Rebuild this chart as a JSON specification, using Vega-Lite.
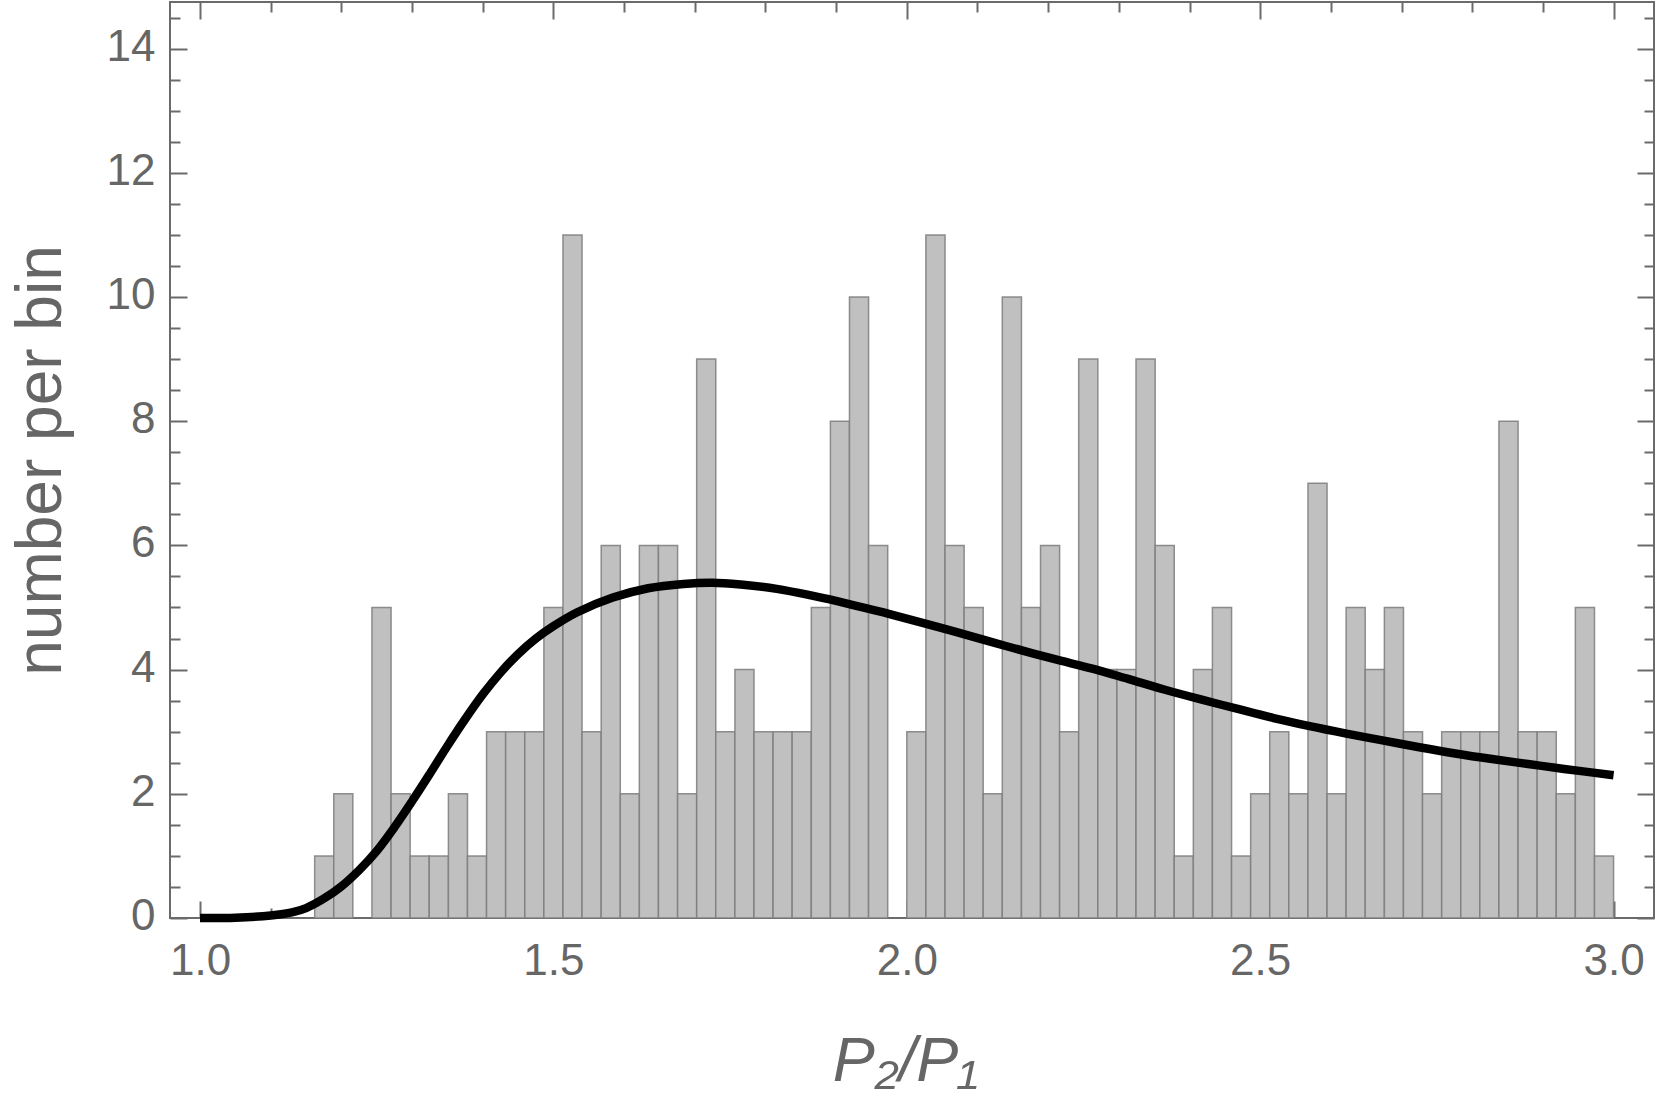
{
  "$schema": "https://vega.github.io/schema/vega-lite/v6.json",
  "width": 1484,
  "height": 916,
  "autosize": {"type": "none"},
  "padding": {"left": 170, "top": 2, "right": 7, "bottom": 189},
  "background": "white",
  "config": {
    "font": "Liberation Sans",
    "view": {"stroke": "#6b6b6b", "strokeWidth": 2},
    "axis": {
      "domain": false,
      "grid": false,
      "tickColor": "#6b6b6b",
      "tickWidth": 2,
      "labelColor": "#666666",
      "labelFont": "Liberation Sans",
      "labelFontSize": 44,
      "titleColor": "#666666",
      "titleFont": "Liberation Sans",
      "titleFontWeight": "normal",
      "titleFontSize": 63,
      "labelOverlap": false,
      "labelFlush": false
    }
  },
  "datasets": {
    "bins": [
      {"lo": 1.1622, "hi": 1.1892, "count": 1},
      {"lo": 1.1892, "hi": 1.2162, "count": 2},
      {"lo": 1.2432, "hi": 1.2703, "count": 5},
      {"lo": 1.2703, "hi": 1.2973, "count": 2},
      {"lo": 1.2973, "hi": 1.3243, "count": 1},
      {"lo": 1.3243, "hi": 1.3514, "count": 1},
      {"lo": 1.3514, "hi": 1.3784, "count": 2},
      {"lo": 1.3784, "hi": 1.4054, "count": 1},
      {"lo": 1.4054, "hi": 1.4324, "count": 3},
      {"lo": 1.4324, "hi": 1.4595, "count": 3},
      {"lo": 1.4595, "hi": 1.4865, "count": 3},
      {"lo": 1.4865, "hi": 1.5135, "count": 5},
      {"lo": 1.5135, "hi": 1.5405, "count": 11},
      {"lo": 1.5405, "hi": 1.5676, "count": 3},
      {"lo": 1.5676, "hi": 1.5946, "count": 6},
      {"lo": 1.5946, "hi": 1.6216, "count": 2},
      {"lo": 1.6216, "hi": 1.6486, "count": 6},
      {"lo": 1.6486, "hi": 1.6757, "count": 6},
      {"lo": 1.6757, "hi": 1.7027, "count": 2},
      {"lo": 1.7027, "hi": 1.7297, "count": 9},
      {"lo": 1.7297, "hi": 1.7568, "count": 3},
      {"lo": 1.7568, "hi": 1.7838, "count": 4},
      {"lo": 1.7838, "hi": 1.8108, "count": 3},
      {"lo": 1.8108, "hi": 1.8378, "count": 3},
      {"lo": 1.8378, "hi": 1.8649, "count": 3},
      {"lo": 1.8649, "hi": 1.8919, "count": 5},
      {"lo": 1.8919, "hi": 1.9189, "count": 8},
      {"lo": 1.9189, "hi": 1.9459, "count": 10},
      {"lo": 1.9459, "hi": 1.9730, "count": 6},
      {"lo": 2.0000, "hi": 2.0270, "count": 3},
      {"lo": 2.0270, "hi": 2.0541, "count": 11},
      {"lo": 2.0541, "hi": 2.0811, "count": 6},
      {"lo": 2.0811, "hi": 2.1081, "count": 5},
      {"lo": 2.1081, "hi": 2.1351, "count": 2},
      {"lo": 2.1351, "hi": 2.1622, "count": 10},
      {"lo": 2.1622, "hi": 2.1892, "count": 5},
      {"lo": 2.1892, "hi": 2.2162, "count": 6},
      {"lo": 2.2162, "hi": 2.2432, "count": 3},
      {"lo": 2.2432, "hi": 2.2703, "count": 9},
      {"lo": 2.2703, "hi": 2.2973, "count": 4},
      {"lo": 2.2973, "hi": 2.3243, "count": 4},
      {"lo": 2.3243, "hi": 2.3514, "count": 9},
      {"lo": 2.3514, "hi": 2.3784, "count": 6},
      {"lo": 2.3784, "hi": 2.4054, "count": 1},
      {"lo": 2.4054, "hi": 2.4324, "count": 4},
      {"lo": 2.4324, "hi": 2.4595, "count": 5},
      {"lo": 2.4595, "hi": 2.4865, "count": 1},
      {"lo": 2.4865, "hi": 2.5135, "count": 2},
      {"lo": 2.5135, "hi": 2.5405, "count": 3},
      {"lo": 2.5405, "hi": 2.5676, "count": 2},
      {"lo": 2.5676, "hi": 2.5946, "count": 7},
      {"lo": 2.5946, "hi": 2.6216, "count": 2},
      {"lo": 2.6216, "hi": 2.6486, "count": 5},
      {"lo": 2.6486, "hi": 2.6757, "count": 4},
      {"lo": 2.6757, "hi": 2.7027, "count": 5},
      {"lo": 2.7027, "hi": 2.7297, "count": 3},
      {"lo": 2.7297, "hi": 2.7568, "count": 2},
      {"lo": 2.7568, "hi": 2.7838, "count": 3},
      {"lo": 2.7838, "hi": 2.8108, "count": 3},
      {"lo": 2.8108, "hi": 2.8378, "count": 3},
      {"lo": 2.8378, "hi": 2.8649, "count": 8},
      {"lo": 2.8649, "hi": 2.8919, "count": 3},
      {"lo": 2.8919, "hi": 2.9189, "count": 3},
      {"lo": 2.9189, "hi": 2.9459, "count": 2},
      {"lo": 2.9459, "hi": 2.9730, "count": 5},
      {"lo": 2.9730, "hi": 3.0000, "count": 1}
    ],
    "curve": [
      {"x": 1.0, "y": 0.0},
      {"x": 1.05, "y": 0.005},
      {"x": 1.1, "y": 0.04},
      {"x": 1.13, "y": 0.09},
      {"x": 1.15, "y": 0.16},
      {"x": 1.175, "y": 0.31},
      {"x": 1.2, "y": 0.51},
      {"x": 1.225, "y": 0.77},
      {"x": 1.25, "y": 1.08},
      {"x": 1.275, "y": 1.46},
      {"x": 1.3, "y": 1.88},
      {"x": 1.325, "y": 2.32},
      {"x": 1.35, "y": 2.77},
      {"x": 1.375, "y": 3.2},
      {"x": 1.4, "y": 3.6},
      {"x": 1.425, "y": 3.95},
      {"x": 1.45, "y": 4.25},
      {"x": 1.475, "y": 4.5},
      {"x": 1.5, "y": 4.7},
      {"x": 1.533, "y": 4.92},
      {"x": 1.584, "y": 5.16},
      {"x": 1.634, "y": 5.31},
      {"x": 1.684, "y": 5.38},
      {"x": 1.725, "y": 5.4},
      {"x": 1.765, "y": 5.37},
      {"x": 1.816, "y": 5.3},
      {"x": 1.866, "y": 5.19},
      {"x": 1.917, "y": 5.06},
      {"x": 1.967, "y": 4.92},
      {"x": 2.017, "y": 4.77},
      {"x": 2.068, "y": 4.61},
      {"x": 2.118, "y": 4.45},
      {"x": 2.169, "y": 4.29},
      {"x": 2.219, "y": 4.14},
      {"x": 2.261, "y": 4.02},
      {"x": 2.313, "y": 3.85},
      {"x": 2.364, "y": 3.68},
      {"x": 2.416, "y": 3.52},
      {"x": 2.467, "y": 3.37},
      {"x": 2.519, "y": 3.22},
      {"x": 2.57, "y": 3.09},
      {"x": 2.622, "y": 2.97},
      {"x": 2.673, "y": 2.86},
      {"x": 2.725, "y": 2.75},
      {"x": 2.776, "y": 2.65},
      {"x": 2.828, "y": 2.56},
      {"x": 2.879, "y": 2.48},
      {"x": 2.93, "y": 2.4},
      {"x": 3.0, "y": 2.3}
    ]
  },
  "resolve": {"axis": {"x": "independent", "y": "independent"}},
  "layer": [
    {
      "data": {"name": "bins"},
      "mark": {"type": "rect", "fill": "#c0c0c0", "stroke": "#7c7c7c", "strokeWidth": 1.5, "strokeOpacity": 0.85},
      "encoding": {
        "x": {
          "field": "lo", "type": "quantitative",
          "scale": {"domain": [0.9575, 3.0572], "nice": false, "zero": false},
          "axis": {
            "orient": "bottom",
            "title": "P₂/P₁",
            "titleFontStyle": "italic",
            "titleX": 735,
            "titleY": 162,
            "titleAlign": "center",
            "titleBaseline": "alphabetic",
            "values": [1.0, 1.1, 1.2, 1.3, 1.4, 1.5, 1.6, 1.7, 1.8, 1.9, 2.0, 2.1, 2.2, 2.3, 2.4, 2.5, 2.6, 2.7, 2.8, 2.9, 3.0],
            "labelExpr": "abs(datum.value*2 - round(datum.value*2)) < 0.001 ? format(datum.value, '.1f') : ''",
            "tickSize": {"condition": {"test": "abs(datum.value*2 - round(datum.value*2)) < 0.001", "value": -17}, "value": -10},
            "labelPadding": 73,
            "labelBaseline": "alphabetic",
            "labelAlign": "center"
          }
        },
        "x2": {"field": "hi"},
        "y": {
          "field": "count", "type": "quantitative",
          "scale": {"domain": [0, 14.75], "nice": false},
          "axis": {
            "orient": "left",
            "title": "number per bin",
            "titleX": -110,
            "titleY": 458,
            "titleAngle": 270,
            "titleAlign": "center",
            "titleBaseline": "alphabetic",
            "titleFontSize": 64,
            "values": [0, 0.5, 1, 1.5, 2, 2.5, 3, 3.5, 4, 4.5, 5, 5.5, 6, 6.5, 7, 7.5, 8, 8.5, 9, 9.5, 10, 10.5, 11, 11.5, 12, 12.5, 13, 13.5, 14, 14.5],
            "labelExpr": "datum.value % 2 == 0 ? format(datum.value, 'd') : ''",
            "tickSize": {"condition": {"test": "datum.value % 2 == 0", "value": -17}, "value": -10},
            "labelPadding": 32,
            "labelOffset": -1.5
          }
        },
        "y2": {"datum": 0}
      }
    },
    {
      "data": {"name": "curve"},
      "mark": {"type": "line", "color": "black", "strokeWidth": 8.5, "interpolate": "catmull-rom"},
      "encoding": {
        "x": {
          "field": "x", "type": "quantitative",
          "scale": {"domain": [0.9575, 3.0572], "nice": false, "zero": false},
          "axis": {
            "orient": "top",
            "title": null,
            "labels": false,
            "values": [1.0, 1.1, 1.2, 1.3, 1.4, 1.5, 1.6, 1.7, 1.8, 1.9, 2.0, 2.1, 2.2, 2.3, 2.4, 2.5, 2.6, 2.7, 2.8, 2.9, 3.0],
            "tickSize": {"condition": {"test": "abs(datum.value*2 - round(datum.value*2)) < 0.001", "value": -17}, "value": -10}
          }
        },
        "y": {
          "field": "y", "type": "quantitative",
          "scale": {"domain": [0, 14.75], "nice": false},
          "axis": {
            "orient": "right",
            "title": null,
            "labels": false,
            "values": [0, 0.5, 1, 1.5, 2, 2.5, 3, 3.5, 4, 4.5, 5, 5.5, 6, 6.5, 7, 7.5, 8, 8.5, 9, 9.5, 10, 10.5, 11, 11.5, 12, 12.5, 13, 13.5, 14, 14.5],
            "tickSize": {"condition": {"test": "datum.value % 2 == 0", "value": -17}, "value": -10}
          }
        }
      }
    }
  ]
}
